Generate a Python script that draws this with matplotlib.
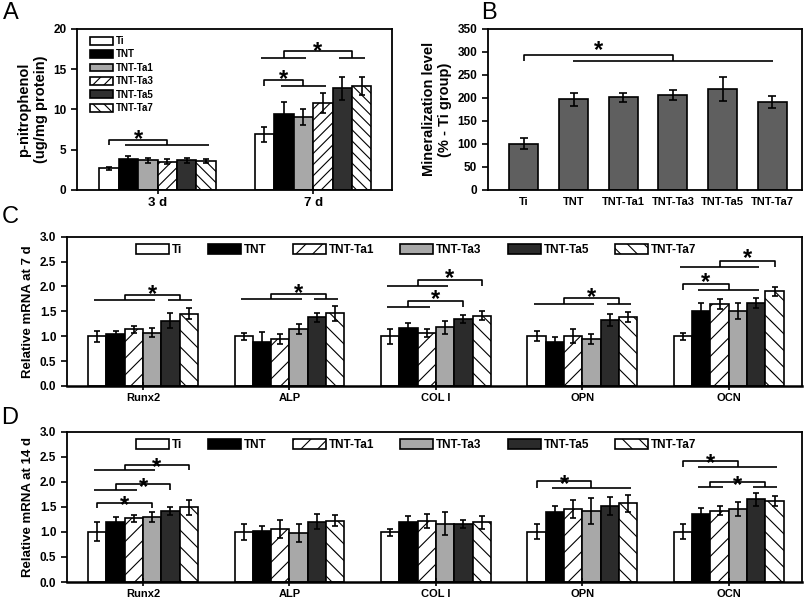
import matplotlib
matplotlib.use("Agg")
import matplotlib.pyplot as plt
import numpy as np

plt.rcParams['font.family'] = ['Liberation Sans', 'DejaVu Sans']
plt.rcParams['font.weight'] = 'bold'
plt.rcParams['axes.labelweight'] = 'bold'
plt.rcParams['hatch.linewidth'] = 0.8

groups = ['Ti', 'TNT', 'TNT-Ta1', 'TNT-Ta3', 'TNT-Ta5', 'TNT-Ta7']

# A: ALP activity, rows = day, cols = group
days = ['3 d', '7 d']
alp_mean = [[2.7, 3.9, 3.7, 3.5, 3.7, 3.6],
            [6.9, 9.4, 9.0, 10.8, 12.6, 12.9]]
alp_err = [[0.2, 0.3, 0.3, 0.3, 0.3, 0.3],
           [0.9, 1.5, 1.0, 1.2, 1.4, 1.1]]

# B: mineralization (% of Ti)
min_mean = [100, 197, 201, 206, 220, 192]
min_err = [12, 14, 9, 11, 26, 13]

# C / D: relative mRNA, rows = gene, cols = group
genes = ['Runx2', 'ALP', 'COL I', 'OPN', 'OCN']
mrna7_mean = [[1.0, 1.04, 1.14, 1.07, 1.31, 1.45],
              [1.0, 0.89, 0.94, 1.14, 1.38, 1.46],
              [1.0, 1.17, 1.06, 1.18, 1.35, 1.41],
              [1.0, 0.89, 1.0, 0.94, 1.33, 1.39],
              [1.0, 1.51, 1.65, 1.5, 1.66, 1.90]]
mrna7_err = [[0.11, 0.06, 0.07, 0.09, 0.15, 0.11],
             [0.07, 0.2, 0.1, 0.1, 0.09, 0.15],
             [0.15, 0.1, 0.08, 0.13, 0.08, 0.09],
             [0.1, 0.09, 0.14, 0.1, 0.12, 0.1],
             [0.07, 0.16, 0.1, 0.16, 0.1, 0.09]]
mrna14_mean = [[1.0, 1.2, 1.27, 1.29, 1.42, 1.49],
               [1.0, 1.02, 1.05, 0.98, 1.2, 1.22],
               [0.99, 1.2, 1.22, 1.16, 1.15, 1.19],
               [1.0, 1.39, 1.45, 1.42, 1.51, 1.57],
               [1.0, 1.35, 1.42, 1.45, 1.65, 1.61]]
mrna14_err = [[0.19, 0.09, 0.07, 0.1, 0.08, 0.15],
              [0.16, 0.1, 0.18, 0.18, 0.15, 0.11],
              [0.07, 0.11, 0.14, 0.23, 0.08, 0.13],
              [0.15, 0.13, 0.18, 0.26, 0.18, 0.17],
              [0.15, 0.12, 0.09, 0.14, 0.13, 0.1]]

# significance brackets: (group, left bars, right bars, y_leg, y_top, y_star)
sig_a = [(0, (0, 0), (1, 5), 5.55, 6.2, 7.2),
         (1, (0, 0), (1, 3), 12.95, 13.6, 14.6),
         (1, (0, 2), (4, 5), 16.4, 17.2, 18.1)]
sig_c = [(0, (0, 3), (4, 5), 1.72, 1.82, 1.99),
         (1, (0, 3), (4, 5), 1.745, 1.85, 2.01),
         (2, (0, 2), (4, 4), 1.58, 1.71, 1.88),
         (2, (0, 3), (5, 5), 2.01, 2.13, 2.30),
         (3, (0, 3), (4, 5), 1.64, 1.76, 1.93),
         (4, (0, 0), (1, 4), 1.93, 2.05, 2.23),
         (4, (0, 4), (5, 5), 2.40, 2.52, 2.70)]
sig_d = [(0, (0, 0), (3, 3), 1.47, 1.57, 1.67),
         (0, (0, 2), (4, 4), 1.84, 1.96, 2.04),
         (0, (0, 3), (5, 5), 2.23, 2.34, 2.43),
         (3, (0, 0), (1, 5), 1.88, 2.01, 2.10),
         (4, (0, 0), (1, 5), 2.29, 2.41, 2.51),
         (4, (1, 2), (4, 5), 1.89, 2.00, 2.08)]

style_a = [('white', None), ('black', None), ('#a8a8a8', None),
           ('white', '///'), ('#303030', None), ('white', '\\\\\\')]
style_cd = [('white', None), ('black', None), ('white', '//'),
            ('#a8a8a8', None), ('#2b2b2b', None), ('white', '\\\\')]

W = 0.125
LW = 1.2


def grouped(ax, means, errs, styles):
    means = np.array(means)
    errs = np.array(errs)
    xs = np.arange(means.shape[0])
    handles = []
    for i, (fc, h) in enumerate(styles):
        b = ax.bar(xs + (i - 2.5) * W, means[:, i], width=W, color=fc,
                   edgecolor='black', linewidth=LW, hatch=h, label=groups[i])
        ax.errorbar(xs + (i - 2.5) * W, means[:, i], yerr=errs[:, i], fmt='none',
                    ecolor='black', elinewidth=LW, capsize=2.5, capthick=LW)
        handles.append(b)
    return handles


def bracket(ax, x_of, spec, fs=17):
    g, (l1, l2), (r1, r2), yl, yt, ys = spec
    xl = (x_of(g, l1) + x_of(g, l2)) / 2
    xr = (x_of(g, r1) + x_of(g, r2)) / 2
    kw = dict(color='black', lw=LW, solid_capstyle='butt')
    for a, b in ((l1, l2), (r1, r2)):
        if a != b:
            ax.plot([x_of(g, a) - 0.02, x_of(g, b) + 0.02], [yl, yl], **kw)
    ax.plot([xl, xl, xr, xr], [yl, yt, yt, yl], **kw)
    ax.annotate('*', ((xl + xr) / 2, ys), xytext=(0, -0.58 * fs),
                textcoords='offset points', ha='center', va='baseline',
                fontsize=fs, fontweight='bold')


def style_axes(ax):
    for s in ax.spines.values():
        s.set_linewidth(1.3)
    ax.tick_params(axis='y', direction='out', length=4, width=1.2, labelsize=8.5)
    ax.tick_params(axis='x', direction='inout', length=6, width=1.2,
                   labelsize=8.5, pad=2)


fig = plt.figure(figsize=(8.06, 6.01), dpi=100)

# ---- A
axA = fig.add_axes([0.0955, 0.684, 0.391, 0.268])
hA = grouped(axA, alp_mean, alp_err, style_a)
for s in sig_a:
    bracket(axA, lambda g, b: g + (b - 2.5) * W, s)
axA.set_xlim(-0.518, 1.508)
axA.set_ylim(0, 20)
axA.set_yticks(np.arange(0, 21, 5))
axA.set_xticks(range(len(days)))
style_axes(axA)
axA.set_xticklabels(days, fontsize=9.5)
axA.set_ylabel('p-nitrophenol\n(ug/mg protein)', fontsize=10.5, labelpad=4)
axA.legend(handles=hA, loc='upper left', bbox_to_anchor=(0.041, 0.955),
           frameon=False, fontsize=7, handlelength=2.4, handleheight=0.85,
           handletextpad=0.3, labelspacing=0.35, borderpad=0, borderaxespad=0)

# ---- B
axB = fig.add_axes([0.605, 0.684, 0.390, 0.268])
xb = np.arange(len(groups))
axB.bar(xb, min_mean, width=0.585, color='#5f5f5f', edgecolor='black', linewidth=LW)
axB.errorbar(xb, min_mean, yerr=min_err, fmt='none', ecolor='black',
             elinewidth=LW, capsize=3, capthick=LW)
bracket(axB, lambda g, b: b, (0, (0, 0), (1, 5), 281, 294, 319))
axB.set_xlim(-0.73, 5.6)
axB.set_ylim(0, 350)
axB.set_yticks(np.arange(0, 351, 50))
axB.set_xticks(xb)
style_axes(axB)
axB.set_xticklabels(groups, fontsize=8)
axB.set_ylabel('Mineralization level\n(% - Ti group)', fontsize=10.5, labelpad=4)
axB.tick_params(axis='x', length=0, pad=5)

# ---- C and D
for pos, means, errs, sigs, lab in (
        ([0.083, 0.358, 0.912, 0.248], mrna7_mean, mrna7_err, sig_c, 'Relative mRNA at 7 d'),
        ([0.083, 0.0316, 0.912, 0.250], mrna14_mean, mrna14_err, sig_d, 'Relative mRNA at 14 d')):
    ax = fig.add_axes(pos)
    h = grouped(ax, means, errs, style_cd)
    for s in sigs:
        bracket(ax, lambda g, b: g + (b - 2.5) * W, s)
    ax.set_xlim(-0.52, 4.50)
    ax.set_ylim(0, 3.0)
    ax.set_yticks(np.arange(0, 3.01, 0.5))
    ax.set_yticklabels(['%.1f' % v for v in np.arange(0, 3.01, 0.5)])
    ax.set_xticks(range(len(genes)))
    style_axes(ax)
    ax.set_xticklabels(genes, fontsize=8)
    ax.set_ylabel(lab, fontsize=9.5, labelpad=4)
    ax.spines['bottom'].set_linewidth(1.8)
    ax.legend(handles=h, loc='upper left', bbox_to_anchor=(0.094, 0.955), ncol=6,
              frameon=False, fontsize=8.5, handlelength=2.8, handleheight=0.95,
              handletextpad=0.25, columnspacing=2.2, borderpad=0, borderaxespad=0)

fig.text(0.004, 0.997, 'A', fontsize=17, fontweight='normal', va='top')
fig.text(0.597, 0.997, 'B', fontsize=17, fontweight='normal', va='top')
fig.text(0.002, 0.657, 'C', fontsize=17, fontweight='normal', va='top')
fig.text(0.002, 0.323, 'D', fontsize=17, fontweight='normal', va='top')

fig.savefig('out.png', dpi=100)
